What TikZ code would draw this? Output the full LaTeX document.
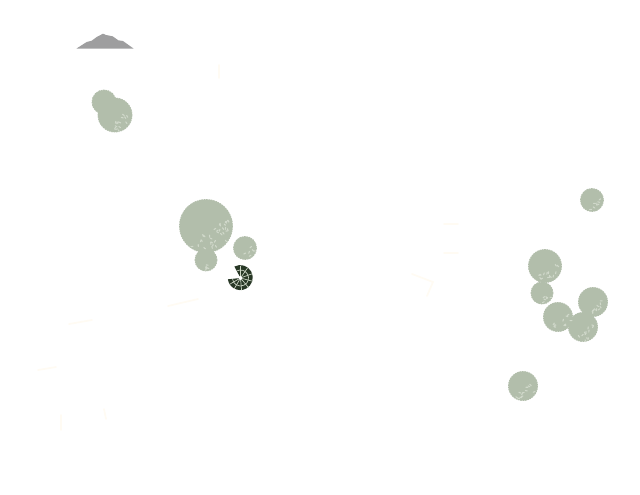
\documentclass[tikz,border=0pt]{standalone}
\usepackage{tikz}
\definecolor{treegreen}{RGB}{178,190,171}
\definecolor{treespeck}{RGB}{208,216,202}
\definecolor{hillgray}{RGB}{158,158,159}
\definecolor{palmdark}{RGB}{40,56,38}
\definecolor{palmlight}{RGB}{205,214,198}
\definecolor{faintline}{RGB}{255,251,243}
\tikzset{
  tree/.style={draw=treegreen,dash pattern=on 1.2pt off 0.6pt,line width=0.7pt},
  speck/.style={draw=treespeck,line width=0.8pt,line cap=round},
  faint/.style={draw=faintline,line width=1.3pt,line cap=round}
}
\begin{document}
\begin{tikzpicture}[x=0.75pt,y=-0.75pt]
  \useasboundingbox (0,0) rectangle (640,494);
  \pgfmathsetseed{11}

  %hill
  \fill[hillgray] (76.5,48.5) -- (86.7,42) -- (91.7,40.7) -- (96.7,37) -- (103,33.7) -- (106,35) -- (112.7,36.3)
    -- (118.3,40.3) -- (123,41) -- (133.5,48.5) -- cycle;

  %trees: x, y, radius
  \foreach \x/\y/\r in {104/102/12, 115/115/17, 206/226/26.5, 245/248/11.5, 206/260/11, 592/200/11.5,
    545/266/16.5, 542/293/11, 558/317/14.5, 593/302/14.5, 583/327/14.5, 523/386/14.5} {
    \fill[treegreen] (\x,\y) circle (\r);
    \draw[tree] (\x,\y) circle (\r);
  }

  %lighter speckles towards the lower right of each tree
  \foreach \x/\y/\r/\n in {115/115/17/14, 206/226/26.5/34, 245/248/11.5/6, 206/260/11/5, 592/200/11.5/7,
    545/266/16.5/14, 542/293/11/6, 558/317/14.5/10, 593/302/14.5/10, 583/327/14.5/12, 523/386/14.5/12} {
    \foreach \i in {1,...,\n} {
      \pgfmathsetmacro{\a}{-15+rnd*140}
      \pgfmathsetmacro{\d}{0.35+rnd*0.58}
      \pgfmathsetmacro{\t}{rnd*180}
      \draw[speck] (\x,\y) ++(\a:\d*\r) -- ++(\t:2);
    }
  }

  %spiral plant
  \fill[palmdark] (240.5,278) ++(-118:13) arc (-118:172:12.5) -- (240.5,278) -- cycle;
  \fill[white] (240.5,278) circle (2);
  \foreach \a in {-90,-55,-20,15,50,85,120,150} {
    \draw[palmlight,line width=0.5pt] (240.5,278) ++(\a:2) -- ++(\a:10.5);
  }
  \draw[palmlight,line width=0.5pt] (240.5,278) ++(-118:8) arc (-118:172:8);

  %very faint marks
  \draw[faint] (69,324) -- (92,320);
  \draw[faint] (168,306) -- (198,299);
  \draw[faint] (38,370) -- (56,367);
  \draw[faint] (61,415) -- (61,430);
  \draw[faint] (104,409) -- (106,419);
  \draw[faint] (412,274) -- (433,282) -- (427,296);
  \draw[faint] (444,224) -- (458,224);
  \draw[faint] (444,253) -- (458,253);
  \draw[faint] (219,65) -- (219,78);
\end{tikzpicture}
\end{document}
